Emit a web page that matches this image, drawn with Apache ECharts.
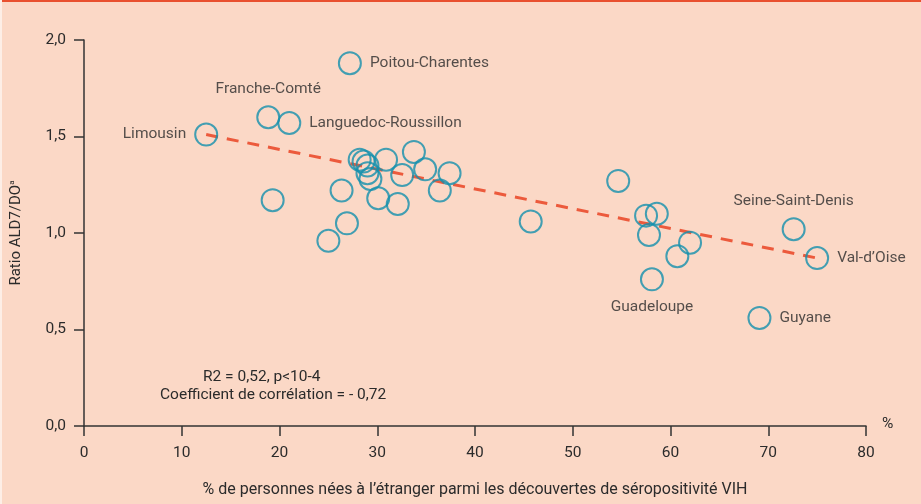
<!DOCTYPE html>
<html>
<head>
<meta charset="utf-8">
<script src="https://cdn.jsdelivr.net/npm/echarts@6/dist/echarts.min.js"></script>
<style>
html, body { margin: 0; padding: 0; background: #fbd8c6; }
#chartView { width: 921px; height: 504px; }
</style>
</head>
<body>
<div id="chartView"></div>
<script>
// % of people born abroad (x) vs ratio ALD7/DO (y), one circle per region
var pctBorn = [12.5, 18.85, 21.0, 27.2, 19.3, 26.35, 26.9, 25.0, 30.1, 32.1, 30.9, 32.55, 33.75, 34.9, 36.4, 37.4,
	28.2, 28.6, 29.0, 29.0, 29.3,
	54.65, 45.7, 57.5, 58.6, 57.8, 62.0, 60.7, 58.1, 72.6, 75.0, 69.1];
var ratio = [1.51, 1.60, 1.57, 1.88, 1.17, 1.22, 1.05, 0.96, 1.18, 1.15, 1.38, 1.30, 1.42, 1.33, 1.22, 1.31,
	1.38, 1.37, 1.35, 1.31, 1.28,
	1.27, 1.06, 1.09, 1.10, 0.99, 0.95, 0.88, 0.76, 1.02, 0.87, 0.56];
var regionNames = ['Limousin', 'Franche-Comté', 'Languedoc-Roussillon', 'Poitou-Charentes', '', '', '', '', '', '', '', '', '', '', '', '',
	'', '', '', '', '',
	'', '', '', '', '', '', '', 'Guadeloupe', 'Seine-Saint-Denis', 'Val-d’Oise', 'Guyane'];
// regression line end points
var trendX = [12.5, 75.0];
var trendY = [1.51, 0.87];
var xTicks = [0, 10, 20, 30, 40, 50, 60, 70, 80];
var yTicks = ['0,0', '0,5', '1,0', '1,5', '2,0'];

var labelSide = {
	'Limousin': 'left',
	'Franche-Comté': 'top',
	'Languedoc-Roussillon': 'right',
	'Poitou-Charentes': 'right',
	'Guadeloupe': 'bottom',
	'Seine-Saint-Denis': 'top',
	'Val-d’Oise': 'right',
	'Guyane': 'right'
};

var txt = '#2b2b2b';
var fontFam = 'Roboto, "Noto Sans", sans-serif';

var points = [];
for (var i = 0; i < pctBorn.length; i++) {
	var item = { value: [pctBorn[i], ratio[i]], name: regionNames[i] };
	if (regionNames[i]) {
		item.label = {
			show: true,
			position: labelSide[regionNames[i]],
			distance: 8,
			formatter: '{b}',
			color: txt,
			fontSize: 15.5,
			fontFamily: fontFam
		};
	}
	points.push(item);
}
var trend = [];
for (var j = 0; j < trendX.length; j++) {
	trend.push([trendX[j], trendY[j]]);
}

var chartView = echarts.init(document.getElementById('chartView'));
var ops = {
	backgroundColor: '#fbd8c6',
	animation: false,
	textStyle: { fontFamily: fontFam },
	grid: {
		left: 84,
		right: 55,
		top: 40,
		bottom: 78,
		containLabel: false,
		outerBoundsMode: 'none'
	},
	graphic: [
		{ type: 'rect', shape: { x: 0, y: 0, width: 921, height: 2 }, style: { fill: '#e9502f' } },
		{ type: 'rect', shape: { x: 0, y: 0, width: 2, height: 504 }, style: { fill: '#fdeee6' } },
		{ type: 'text', left: 882, top: 416, style: { text: '%', fill: txt, font: '15.5px ' + fontFam } },
		{ type: 'text', left: 203, top: 369, style: { text: 'R2 = 0,52, p<10-4', fill: txt, font: '15.5px ' + fontFam } },
		{ type: 'text', left: 160, top: 387, style: { text: 'Coefficient de corrélation = - 0,72', fill: txt, font: '15.5px ' + fontFam } }
	],
	xAxis: {
		type: 'value',
		min: 0,
		max: 80,
		interval: 10,
		name: '% de personnes nées à l’étranger parmi les découvertes de séropositivité VIH',
		nameLocation: 'middle',
		nameGap: 56,
		nameTextStyle: { color: txt, fontSize: 16 },
		splitLine: { show: false },
		axisLine: { lineStyle: { color: '#333', width: 1.5 } },
		axisTick: { length: 10, lineStyle: { color: '#333', width: 1.5 } },
		axisLabel: {
			margin: 19,
			color: txt,
			fontSize: 15.5,
			formatter: function (v) { return xTicks.indexOf(v) >= 0 ? String(v) : ''; }
		}
	},
	yAxis: {
		type: 'value',
		min: 0,
		max: 2,
		interval: 0.5,
		name: '{n|Ratio ALD7/DO}{s|a}',
		nameLocation: 'middle',
		nameGap: 60,
		nameRotate: 90,
		nameTextStyle: {
			rich: {
				n: { color: txt, fontSize: 15, fontFamily: fontFam },
				s: { color: txt, fontSize: 8, fontFamily: fontFam, verticalAlign: 'top', padding: [0, 0, 8, 0] }
			}
		},
		splitLine: { show: false },
		axisLine: { show: true, lineStyle: { color: '#333', width: 1.5 } },
		axisTick: { show: true, length: 10, lineStyle: { color: '#333', width: 1.5 } },
		axisLabel: {
			margin: 18,
			color: txt,
			fontSize: 15.5,
			formatter: function (v) { return yTicks[Math.round(v / 0.5)]; }
		}
	},
	series: [{
		type: 'line',
		data: trend,
		symbol: 'none',
		z: 1,
		lineStyle: { color: '#ec5a3c', width: 3, type: [12, 9] }
	}, {
		type: 'scatter',
		data: points,
		symbol: 'circle',
		symbolSize: 22,
		z: 2,
		itemStyle: {
			color: 'rgba(0,0,0,0)',
			borderColor: '#1490ad',
			borderWidth: 2
		}
	}]
};
chartView.setOption(ops);
</script>
</body>
</html>
